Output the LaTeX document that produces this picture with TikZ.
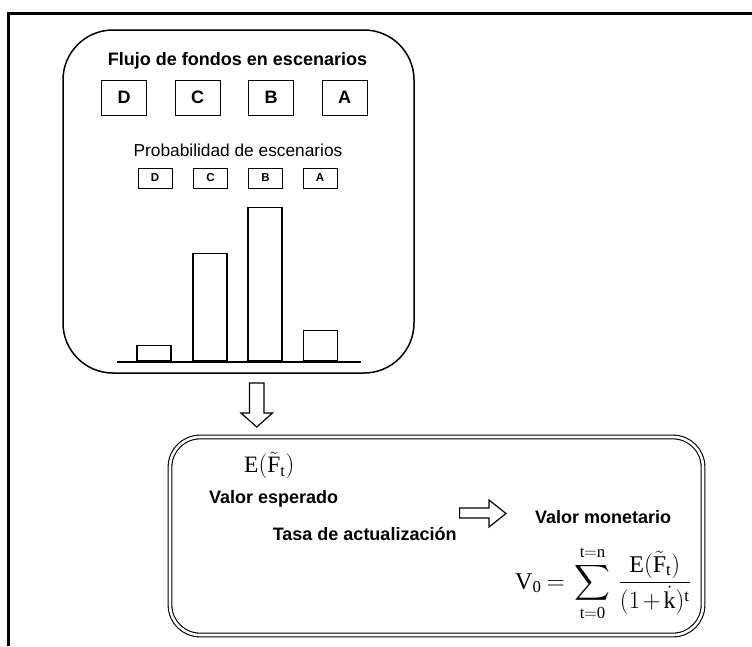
\documentclass[tikz,border=0pt]{standalone}
\usepackage{exscale}
\usepackage{fontspec}
\setmainfont{Liberation Serif}
\newfontfamily\arial{Liberation Sans}
\begin{document}
\begin{tikzpicture}[x=1pt,y=-1pt,
  frame/.style={line width=3pt, line join=miter},
  panel/.style={draw, line width=1.5pt, rounded corners=50pt, inner sep=0pt},
  bigbox/.style={draw, line width=0.9pt, minimum width=45pt, minimum height=35pt, inner sep=0pt, font=\arial\bfseries\fontsize{18}{20}\selectfont},
  smallbox/.style={draw, line width=0.9pt, minimum width=34pt, minimum height=20pt, inner sep=0pt, font=\arial\bfseries\fontsize{11.5}{12}\selectfont},
  bar/.style={draw, line width=1.3pt, minimum width=34pt, inner sep=0pt, anchor=south},
  lbl/.style={inner sep=0pt, font=\arial\bfseries\fontsize{18}{20}\selectfont},
  plain/.style={inner sep=0pt, font=\arial\fontsize{17.3}{20}\selectfont},
  mathlbl/.style={inner sep=0pt, font=\fontsize{23.5}{28}\selectfont},
  formula/.style={inner sep=0pt, font=\fontsize{24}{28}\selectfont},
  blockarrow/.style={draw, line width=1.2pt, fill=white, line join=miter},
]
\useasboundingbox (0,0) rectangle (752,646);
% outer frame
\draw[frame] (8,646) -- (8,13.5) -- (752,13.5);

% top panel
\node[panel, minimum width=351pt, minimum height=343pt] (top) at (238.5,201.5) {};
\node[lbl, anchor=base] (title) at (237.5,65.5) {Flujo de fondos en escenarios};
\node[bigbox] (fd) at (124.2,97.5) {D};
\node[bigbox] (fc) at (197.5,97.5) {C};
\node[bigbox] (fb) at (271,97.5) {B};
\node[bigbox] (fa) at (344.5,97.5) {A};
\node[plain, anchor=base] (prob) at (238,156) {Probabilidad de escenarios};
\node[smallbox] (pd) at (155,178) {D};
\node[smallbox] (pc) at (210.5,178) {C};
\node[smallbox] (pb) at (265.5,178) {B};
\node[smallbox] (pa) at (320,178) {A};
% bars
\node[bar, minimum height=15.7pt] (bd) at (154,361.7) {};
\node[bar, minimum height=107.7pt] (bc) at (210,361.7) {};
\node[bar, minimum height=153.7pt] (bb) at (265,361.7) {};
\node[bar, minimum height=30.7pt] (ba) at (320.5,361.7) {};
\draw[line width=2pt] (117,361.7) -- (361,361.7);

% down block arrow
\draw[blockarrow] (249.5,383) -- (264,383) -- (264,413) -- (272.5,413) -- (256.75,427) -- (241,413) -- (249.5,413) -- cycle;

% bottom panel
\node[draw, double, double distance=2.6pt, line width=1.1pt, rounded corners=30pt, minimum width=533pt, minimum height=198pt, inner sep=0pt] (bottom) at (436.5,536) {};
\node[mathlbl, anchor=base west] (ef) at (244,472.8) {$\mathrm{E}(\tilde{\mathrm{F}}_{\mathrm{t}})$};
\node[lbl, anchor=base west] (ve) at (209,503) {Valor esperado};
\node[lbl, anchor=base west] (ta) at (272.6,540) {Tasa de actualización};
\node[lbl, anchor=base west] (vm) at (535,523) {Valor monetario};
\draw[blockarrow] (459.6,508) -- (489,508) -- (489,500) -- (506,513.5) -- (489,527) -- (489,518) -- (459.6,518) -- cycle;
\node[formula, anchor=base west] (v0) at (515,589) {$\displaystyle \mathrm{V}_{\mathrm{0}} \mskip4mu{=}\mskip4mu \sum_{\mathrm{t=0}}^{\mathrm{t=n}} \mskip3mu \frac{\mathrm{E}(\tilde{\mathrm{F}}_{\mathrm{t}})}{(1\mskip2mu{+}\mskip2mu\dot{\mathrm{k}})^{\mathrm{t}}}$};
\end{tikzpicture}
\end{document}
